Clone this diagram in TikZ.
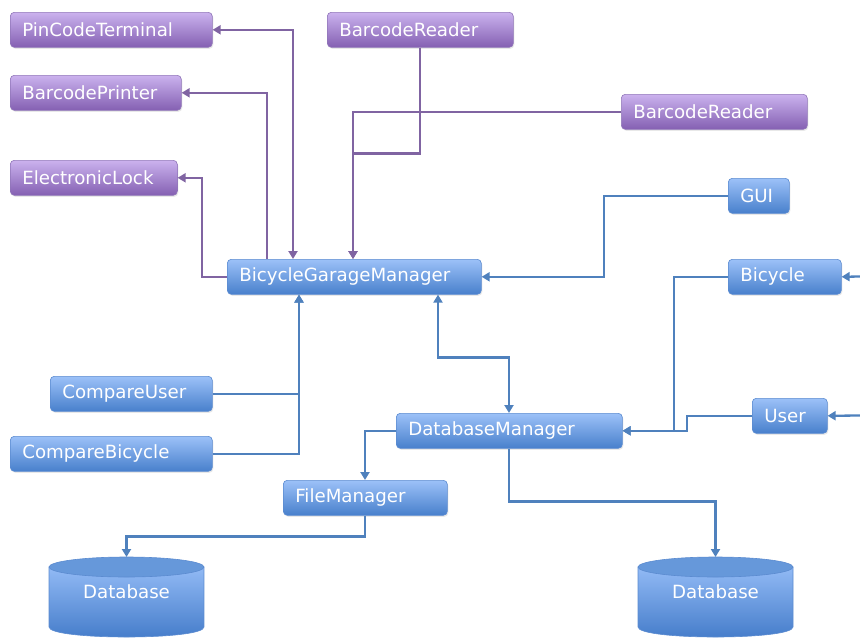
\documentclass[tikz,border=0pt]{standalone}
\usepackage{fontspec}
\setmainfont{DejaVu Sans}
\usetikzlibrary{arrows.meta,shadows}
\definecolor{pline}{HTML}{8064A2}
\definecolor{bline}{HTML}{4F81BD}
\definecolor{ptop}{HTML}{CBB2EE}
\definecolor{pbot}{HTML}{8460B2}
\definecolor{pborder}{HTML}{9076B8}
\definecolor{btop}{HTML}{9CC1F8}
\definecolor{bbot}{HTML}{4880CC}
\definecolor{bborder}{HTML}{5B8BD0}
\definecolor{dbtopc}{HTML}{6698DA}
\definecolor{dbbody}{HTML}{92BAF5}
\definecolor{dbbot}{HTML}{437BC9}
\begin{document}
\begin{tikzpicture}[x=1pt,y=-1pt,
  box/.style={rounded corners=4pt, anchor=north west, minimum height=35pt,
    inner xsep=12pt, inner ysep=0pt, align=left, text=white,
    font=\fontsize{18.2}{20}\selectfont,
    drop shadow={opacity=0.18,shadow xshift=1pt,shadow yshift=-1.5pt}},
  pbox/.style={box, draw=pborder, line width=0.6pt, top color=ptop, bottom color=pbot},
  bbox/.style={box, draw=bborder, line width=0.6pt, top color=btop, bottom color=bbot},
  conn/.style={line width=2.3pt, -{Triangle[length=8pt,width=9pt]}},
  both/.style={{Triangle[length=8pt,width=9pt]}-{Triangle[length=8pt,width=9pt]}},
  parr/.style={conn, draw=pline},
  barr/.style={conn, draw=bline},
  dbtext/.style={text=white, font=\fontsize{18.2}{20}\selectfont},
  dbshape/.style={top color=dbbody, bottom color=dbbot, draw=bborder, line width=0.6pt}]
\useasboundingbox (0,0) rectangle (860,638);

% purple nodes
\node[pbox, text width=178pt] (pct) at (10,12) {PinCodeTerminal};
\node[pbox, text width=147pt] (bp) at (10,75) {BarcodePrinter};
\node[pbox, text width=143pt] (el) at (10,160) {ElectronicLock};
\node[pbox, text width=162pt] (br1) at (327,12) {BarcodeReader};
\node[pbox, text width=162pt] (br2) at (621,94) {BarcodeReader};

% blue nodes
\node[bbox, text width=37pt] (gui) at (728,178) {GUI};
\node[bbox, text width=89pt] (bic) at (728,259) {Bicycle};
\node[bbox, text width=51pt] (user) at (752,398) {User};
\node[bbox, text width=230pt] (bgm) at (227,259) {BicycleGarageManager};
\node[bbox, text width=138pt] (cu) at (50,376) {CompareUser};
\node[bbox, text width=178pt] (cb) at (10,436) {CompareBicycle};
\node[bbox, text width=202pt] (dbm) at (396,413) {DatabaseManager};
\node[bbox, text width=140pt] (fm) at (283,480) {FileManager};

% databases
\path[dbshape] (49,567) -- (49,627) .. controls (49,640.33) and (204,640.33) .. (204,627) -- (204,567) -- cycle;
\path[fill=dbtopc, draw=bborder, line width=0.6pt] (126.5,567) ellipse [x radius=77.5, y radius=10];
\node[dbtext] (db1) at (126.5,592) {Database};
\coordinate (db1top) at (126.5,557);

\path[dbshape] (638,567) -- (638,627) .. controls (638,640.33) and (793,640.33) .. (793,627) -- (793,567) -- cycle;
\path[fill=dbtopc, draw=bborder, line width=0.6pt] (715.5,567) ellipse [x radius=77.5, y radius=10];
\node[dbtext] (db2) at (715.5,592) {Database};
\coordinate (db2top) at (715.5,557);

\coordinate (rbic) at (860,276.5);
\coordinate (ruser) at (860,415.5);

% purple connectors
\draw[parr] ([xshift=40pt]bgm.north west) |- (bp.east);
\draw[parr, both] ([xshift=66pt]bgm.north west) |- (pct.east);
\draw[parr] (bgm.west) -- ++(-25,0) |- (el.east);
\draw[parr] (br1.south) -- ++(0,106) -| ([xshift=126pt]bgm.north west);
\draw[parr] (br2.west) -| ([xshift=126pt]bgm.north west);

% blue connectors
\draw[barr] (gui.west) -- ++(-124,0) |- (bgm.east);
\draw[barr] (cu.east) -| ([xshift=72pt]bgm.south west);
\draw[barr] (cb.east) -| ([xshift=72pt]bgm.south west);
\draw[barr, both] ([xshift=211pt]bgm.south west) -- ++(0,63) -| ([xshift=113pt]dbm.north west);
\draw[barr] (bic.west) -- ++(-54,0) |- (dbm.east);
\draw[barr] (user.west) -- ++(-65,0) |- (dbm.east);
\draw[barr] (rbic) -- (bic.east);
\draw[barr] (ruser) -- (user.east);
\draw[barr] (dbm.west) -- ++(-31,0) -| ([xshift=82pt]fm.north west);
\draw[barr] ([xshift=82pt]fm.south west) -- ++(0,21) -| (db1top);
\draw[barr] ([xshift=113pt]dbm.south west) -- ++(0,53) -| (db2top);
\end{tikzpicture}
\end{document}
